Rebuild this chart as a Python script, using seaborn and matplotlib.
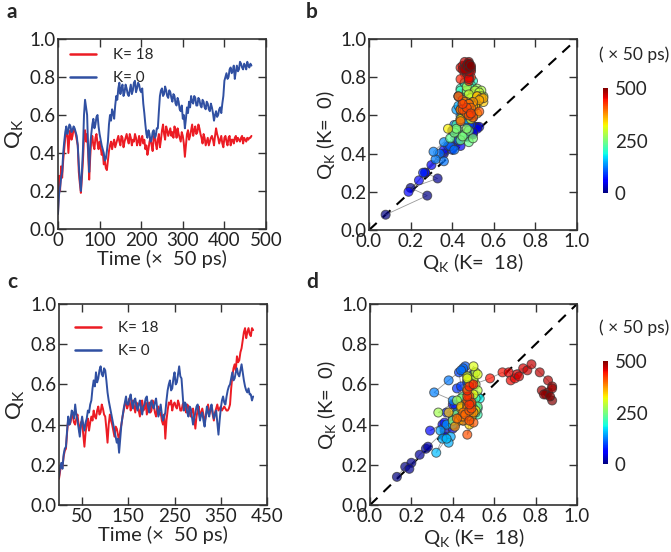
import numpy as np
import pandas as pd
import matplotlib
matplotlib.use("Agg")
import matplotlib.pyplot as plt
import seaborn as sns

# ---------------- data (one sample every 2.5 time units of 50 ps) ----------------
red_a = [0.08, 0.28, 0.20, 0.33, 0.27, 0.36, 0.42, 0.48, 0.51, 0.50, 0.40, 0.49, 0.52, 0.47, 0.49, 0.53, 0.52, 0.50, 0.47, 0.44,
         0.30, 0.24, 0.19, 0.27, 0.36, 0.48, 0.52, 0.46, 0.50, 0.40, 0.26, 0.38, 0.47, 0.49, 0.44, 0.42, 0.48, 0.50, 0.45, 0.42,
         0.46, 0.43, 0.39, 0.41, 0.34, 0.36, 0.32, 0.31, 0.36, 0.41, 0.44, 0.46, 0.42, 0.45, 0.47, 0.43, 0.45, 0.47, 0.49, 0.46,
         0.44, 0.49, 0.48, 0.43, 0.46, 0.48, 0.50, 0.47, 0.45, 0.50, 0.48, 0.44, 0.47, 0.46, 0.50, 0.48, 0.44, 0.46, 0.49, 0.44,
         0.47, 0.49, 0.45, 0.47, 0.42, 0.44, 0.39, 0.42, 0.46, 0.48, 0.44, 0.41, 0.48, 0.50, 0.45, 0.42, 0.47, 0.50, 0.43, 0.47,
         0.52, 0.55, 0.50, 0.47, 0.54, 0.52, 0.49, 0.51, 0.53, 0.49, 0.51, 0.48, 0.54, 0.52, 0.48, 0.53, 0.50, 0.48, 0.46, 0.51,
         0.49, 0.45, 0.38, 0.44, 0.50, 0.52, 0.47, 0.49, 0.52, 0.55, 0.49, 0.52, 0.54, 0.50, 0.51, 0.55, 0.53, 0.50, 0.48, 0.45,
         0.50, 0.48, 0.44, 0.46, 0.48, 0.44, 0.46, 0.48, 0.49, 0.47, 0.44, 0.49, 0.53, 0.50, 0.48, 0.45, 0.47, 0.49, 0.45, 0.43,
         0.48, 0.49, 0.46, 0.44, 0.48, 0.49, 0.44, 0.47, 0.47, 0.45, 0.48, 0.49, 0.46, 0.48, 0.47, 0.46, 0.48, 0.49, 0.45, 0.48,
         0.47, 0.46, 0.48, 0.47, 0.48, 0.48, 0.49]
blue_a = [0.08, 0.18, 0.22, 0.27, 0.30, 0.40, 0.46, 0.51, 0.54, 0.50, 0.52, 0.55, 0.54, 0.51, 0.52, 0.54, 0.53, 0.51, 0.49, 0.44,
          0.34, 0.26, 0.20, 0.30, 0.42, 0.60, 0.68, 0.64, 0.60, 0.42, 0.30, 0.44, 0.50, 0.55, 0.58, 0.53, 0.55, 0.59, 0.60, 0.54,
          0.50, 0.47, 0.44, 0.42, 0.40, 0.36, 0.37, 0.41, 0.46, 0.55, 0.60, 0.57, 0.63, 0.61, 0.58, 0.65, 0.70, 0.68, 0.74, 0.77,
          0.71, 0.74, 0.76, 0.70, 0.72, 0.76, 0.74, 0.71, 0.70, 0.73, 0.76, 0.71, 0.73, 0.77, 0.78, 0.72, 0.74, 0.77, 0.76, 0.73,
          0.72, 0.74, 0.66, 0.61, 0.55, 0.50, 0.48, 0.52, 0.50, 0.46, 0.47, 0.51, 0.52, 0.48, 0.49, 0.53, 0.53, 0.62, 0.70, 0.73,
          0.74, 0.70, 0.71, 0.75, 0.73, 0.70, 0.69, 0.73, 0.72, 0.69, 0.67, 0.71, 0.70, 0.66, 0.65, 0.69, 0.67, 0.63, 0.62, 0.65,
          0.58, 0.60, 0.53, 0.58, 0.64, 0.61, 0.67, 0.64, 0.70, 0.67, 0.66, 0.70, 0.69, 0.65, 0.65, 0.69, 0.68, 0.65, 0.64, 0.68,
          0.67, 0.64, 0.63, 0.67, 0.66, 0.63, 0.62, 0.66, 0.64, 0.61, 0.57, 0.60, 0.62, 0.59, 0.60, 0.63, 0.64, 0.61, 0.66, 0.70,
          0.78, 0.80, 0.82, 0.79, 0.80, 0.84, 0.85, 0.82, 0.83, 0.86, 0.79, 0.83, 0.86, 0.83, 0.84, 0.88, 0.87, 0.85, 0.84, 0.87,
          0.86, 0.84, 0.88, 0.86, 0.85, 0.87, 0.86]

red_c = [0.13, 0.17, 0.20, 0.19, 0.24, 0.27, 0.28, 0.36, 0.43, 0.40, 0.41, 0.45, 0.44, 0.41, 0.40, 0.43, 0.45, 0.40, 0.36, 0.41,
         0.42, 0.35, 0.29, 0.36, 0.40, 0.43, 0.37, 0.41, 0.44, 0.42, 0.47, 0.44, 0.43, 0.47, 0.49, 0.45, 0.46, 0.50, 0.48, 0.45,
         0.44, 0.38, 0.31, 0.40, 0.45, 0.42, 0.40, 0.37, 0.34, 0.39, 0.38, 0.35, 0.32, 0.37, 0.40, 0.44, 0.47, 0.50, 0.52, 0.48,
         0.50, 0.53, 0.47, 0.50, 0.52, 0.49, 0.46, 0.51, 0.50, 0.47, 0.44, 0.49, 0.52, 0.47, 0.48, 0.51, 0.45, 0.48, 0.51, 0.46,
         0.47, 0.52, 0.50, 0.46, 0.44, 0.48, 0.49, 0.45, 0.46, 0.42, 0.40, 0.45, 0.33, 0.42, 0.47, 0.51, 0.50, 0.52, 0.47, 0.50,
         0.51, 0.49, 0.48, 0.52, 0.50, 0.47, 0.47, 0.50, 0.51, 0.48, 0.46, 0.50, 0.49, 0.46, 0.44, 0.47, 0.48, 0.43, 0.38, 0.44,
         0.47, 0.49, 0.43, 0.46, 0.48, 0.45, 0.41, 0.44, 0.47, 0.50, 0.45, 0.47, 0.49, 0.45, 0.42, 0.46, 0.48, 0.50, 0.47, 0.48,
         0.49, 0.47, 0.48, 0.49, 0.48, 0.47, 0.47, 0.48, 0.50, 0.58, 0.64, 0.68, 0.70, 0.67, 0.74, 0.71, 0.72, 0.76, 0.78, 0.82,
         0.86, 0.88, 0.83, 0.86, 0.88, 0.85, 0.84, 0.88, 0.87]
blue_c = [0.14, 0.19, 0.21, 0.18, 0.25, 0.28, 0.29, 0.37, 0.44, 0.40, 0.42, 0.47, 0.46, 0.43, 0.50, 0.45, 0.42, 0.38, 0.34, 0.40,
          0.44, 0.40, 0.37, 0.41, 0.43, 0.47, 0.46, 0.50, 0.52, 0.58, 0.62, 0.59, 0.66, 0.61, 0.63, 0.67, 0.69, 0.65, 0.64, 0.68,
          0.67, 0.62, 0.56, 0.52, 0.49, 0.46, 0.43, 0.40, 0.37, 0.34, 0.31, 0.33, 0.26, 0.33, 0.40, 0.44, 0.48, 0.51, 0.54, 0.50,
          0.50, 0.53, 0.55, 0.51, 0.48, 0.52, 0.53, 0.49, 0.47, 0.50, 0.52, 0.48, 0.45, 0.49, 0.50, 0.53, 0.54, 0.49, 0.46, 0.50,
          0.52, 0.49, 0.48, 0.51, 0.53, 0.48, 0.44, 0.47, 0.50, 0.45, 0.42, 0.44, 0.46, 0.52, 0.57, 0.60, 0.62, 0.57, 0.58, 0.63,
          0.66, 0.60, 0.61, 0.65, 0.69, 0.64, 0.63, 0.55, 0.47, 0.51, 0.50, 0.46, 0.44, 0.49, 0.48, 0.44, 0.40, 0.43, 0.46, 0.49,
          0.50, 0.46, 0.42, 0.45, 0.46, 0.42, 0.39, 0.44, 0.49, 0.46, 0.44, 0.48, 0.50, 0.46, 0.43, 0.45, 0.47, 0.41, 0.35, 0.42,
          0.48, 0.52, 0.54, 0.51, 0.50, 0.54, 0.57, 0.59, 0.60, 0.63, 0.66, 0.62, 0.63, 0.66, 0.68, 0.65, 0.64, 0.67, 0.70, 0.66,
          0.62, 0.59, 0.57, 0.56, 0.58, 0.55, 0.55, 0.52, 0.54]

STEP = 2.5
assert len(red_a) == len(blue_a) and len(red_c) == len(blue_c)
time_a = [STEP * i for i in range(len(red_a))]
time_c = [STEP * i for i in range(len(red_c))]

label_red = "K= 18"
label_blue = "K= 0"
cbar_labels = ["0", "250", "500"]
ts_yticks = [0.0, 0.2, 0.4, 0.6, 0.8, 1.0]
xticks_a = [0, 100, 200, 300, 400, 500]
xticks_c = [50, 150, 250, 350, 450]
sc_ticks = [0.0, 0.2, 0.4, 0.6, 0.8, 1.0]

# ---------------- style ----------------
sns.set_style("ticks")
FONT = ["Lato", "DejaVu Sans"]
plt.rcParams["font.family"] = FONT
plt.rcParams["mathtext.fontset"] = "custom"
plt.rcParams["mathtext.rm"] = "Lato"
plt.rcParams["mathtext.it"] = "Lato:italic"
plt.rcParams["axes.linewidth"] = 1.2
plt.rcParams["axes.edgecolor"] = "#333333"

RED = "#EC1C24"
BLUE = "#3050A2"
JET = matplotlib.colormaps["jet"]
W, H = 671, 552

fig = plt.figure(figsize=(W / 100, H / 100), dpi=100)


def box(l, t, r, b):
    return [l / W, 1 - b / H, (r - l) / W, (b - t) / H]


def style_axes(ax):
    ax.tick_params(direction="in", top=True, right=True, length=6, width=1,
                   labelsize=13.5, pad=2, colors="#333333", labelcolor="#222222")
    for s in ax.spines.values():
        s.set_visible(True)
        s.set_color("#333333")


QK = r"Q$_{\mathrm{K}}$"


def ts_panel(ax, t, r, b, xticks, xlim, legend_anchor):
    sns.lineplot(x=t, y=r, ax=ax, color=RED, lw=1.4, label=label_red)
    sns.lineplot(x=t, y=b, ax=ax, color=BLUE, lw=1.4, label=label_blue)
    ax.set_xlim(*xlim)
    ax.set_ylim(0, 1)
    ax.set_xticks(xticks)
    ax.set_yticks(ts_yticks)
    ax.set_yticklabels([f"{v:.1f}" for v in ts_yticks])
    ax.set_xlabel("Time (×  50 ps)", fontsize=14.5, labelpad=1)
    ax.set_ylabel(QK, fontsize=16, labelpad=2)
    style_axes(ax)
    leg = ax.legend(loc="upper left", bbox_to_anchor=legend_anchor, frameon=False,
                    fontsize=11, handlelength=1.7, handletextpad=1.1,
                    labelspacing=0.6, borderaxespad=0.2)
    for ln in leg.get_lines():
        ln.set_linewidth(1.8)


def sc_panel(ax, cax, r, b, t, cbar_label_y):
    tmax = max(t)
    ax.plot([0, 1], [0, 1], ls=(0, (5, 4)), color="black", lw=1.5, zorder=1)
    sns.lineplot(x=r, y=b, ax=ax, sort=False, estimator=None, color="0.6",
                 lw=0.6, zorder=2)
    sns.scatterplot(x=r, y=b, hue=t, palette=JET, hue_norm=(0, tmax), ax=ax,
                    s=42, alpha=0.7, edgecolor="#333333", linewidth=0.7,
                    legend=False, zorder=3)
    ax.set_xlim(0, 1)
    ax.set_ylim(0, 1)
    ax.set_xticks(sc_ticks)
    ax.set_yticks(sc_ticks)
    ax.set_xticklabels([f"{v:.1f}" for v in sc_ticks])
    ax.set_yticklabels([f"{v:.1f}" for v in sc_ticks])
    ax.set_xlabel(QK + " (K=  18)", fontsize=14.5, labelpad=1)
    ax.set_ylabel(QK + " (K=  0)", fontsize=14.5, labelpad=2)
    style_axes(ax)
    sm = plt.cm.ScalarMappable(cmap=JET, norm=plt.Normalize(0, tmax))
    cb = fig.colorbar(sm, cax=cax, ticks=[0, tmax / 2, tmax])
    cb.ax.set_yticklabels(cbar_labels)
    cb.outline.set_visible(False)
    cax.tick_params(length=0, labelsize=13.5, pad=5)
    fig.text(634 / W, 1 - cbar_label_y / H, "( × 50 ps)", ha="center",
             va="center", fontsize=12.5)


ax_a = fig.add_axes(box(58, 39, 266, 229))
ax_b = fig.add_axes(box(369, 39, 577, 230))
ax_c = fig.add_axes(box(59, 304, 267, 505))
ax_d = fig.add_axes(box(370, 304, 577, 505))
cax_b = fig.add_axes(box(603, 88, 608, 193))
cax_d = fig.add_axes(box(603, 361, 608, 464))

ts_panel(ax_a, time_a, red_a, blue_a, xticks_a, (0, 500), (0.015, 1.0))
ts_panel(ax_c, time_c, red_c, blue_c, xticks_c, (0, 450), (0.035, 0.96))
sc_panel(ax_b, cax_b, red_a, blue_a, time_a, 55)
sc_panel(ax_d, cax_d, red_c, blue_c, time_c, 328)

for lab, x, y in [("a", 12, 12), ("b", 312, 12), ("c", 12, 282), ("d", 312, 282)]:
    fig.text(x / W, 1 - y / H, lab, fontsize=15, fontweight="bold",
             ha="center", va="center")

fig.savefig("out.png", dpi=100)
